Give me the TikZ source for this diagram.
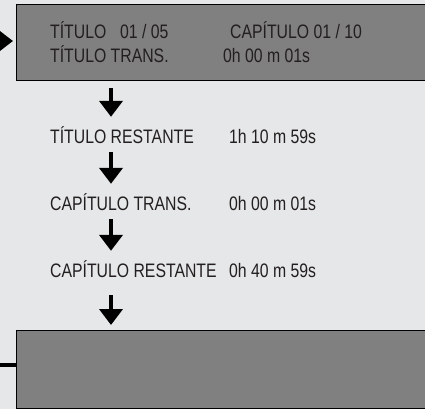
\documentclass[tikz,border=0pt]{standalone}
\usepackage{fontspec}
\setmainfont{Liberation Sans}[FakeStretch=0.81]
\usetikzlibrary{positioning, arrows.meta, calc}
\definecolor{pagebg}{HTML}{E6E7E8}
\definecolor{panelgray}{HTML}{808080}
\definecolor{inkgray}{HTML}{231F20}

\begin{document}
\begin{tikzpicture}[
  x=1pt, y=-1pt,
  panel/.style={draw=black, fill=panelgray, line width=1.3pt, anchor=north west,
                minimum width=440pt, inner sep=0pt},
  txt/.style={anchor=base west, inner sep=0pt, text=inkgray, text height=14pt, text depth=0pt,
              font=\fontsize{19.5}{22}\selectfont},
  arr/.style={-{Triangle[length=16pt, width=23pt]}, line width=4.5pt, color=black},
  feed/.style={-{Triangle[length=13pt, width=19pt]}, line width=4.5pt, color=black},
  link/.style={line width=4.5pt, color=black}
]

% Page
\path[use as bounding box, fill=pagebg] (0,0) rectangle (425,409);
\clip (0,0) rectangle (425,409);

% Panels
\node[panel, minimum height=76pt] (top) at (16,4) {};
\node[panel, minimum height=78pt] (bottom) at (16,330) {};

% Panel text
\node[txt] (tnum) at (50,39) {TÍTULO};
\node[txt] (tnumv) at (120,39) {01 / 05};
\node[txt] (cnum) at (230,39) {CAPÍTULO 01 / 10};
\node[txt] (ttrans) at (50,63) {TÍTULO TRANS.};
\node[txt] (ttransv) at (223,63) {0h 00 m 01s};

% Rows
\node[txt] (trest) at (50,143) {TÍTULO RESTANTE};
\node[txt] (trestv) at (229,143) {1h 10 m 59s};
\node[txt] (ctrans) at (50,210) {CAPÍTULO TRANS.};
\node[txt] (ctransv) at (229,210) {0h 00 m 01s};
\node[txt] (crest) at (50,277) {CAPÍTULO RESTANTE};
\node[txt] (crestv) at (229,277) {0h 40 m 59s};

% Arrows
\coordinate (ax) at (111,0);
\draw[arr, shorten <=7pt, shorten >=12pt] (top.south -| ax) -- (trest.north -| ax);
\draw[arr, shorten <=9pt, shorten >=12pt] (trest.south -| ax) -- (ctrans.north -| ax);
\draw[arr, shorten <=9pt, shorten >=12pt] (ctrans.south -| ax) -- (crest.north -| ax);
\draw[arr, shorten <=18pt, shorten >=5pt] (crest.south -| ax) -- (bottom.north -| ax);

% Side links
\coordinate (in) at (-30,41);
\coordinate (out) at (-10,365);
\draw[feed, shorten >=3pt] (in) -- (in -| top.west);
\draw[link] (out -| bottom.west) -- (out);

\end{tikzpicture}
\end{document}
